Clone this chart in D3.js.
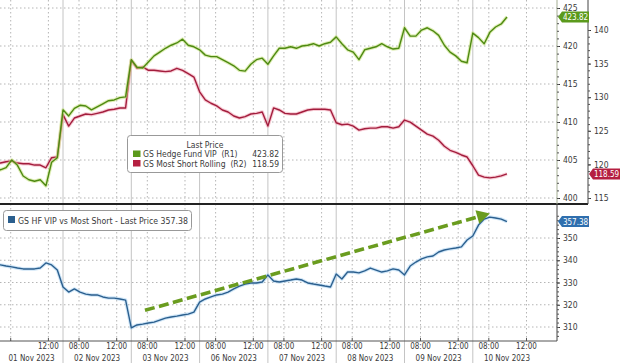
<!DOCTYPE html>
<html lang="en">
<head>
<meta charset="UTF-8">
<title>GS Hedge Fund VIP vs Most Short</title>
<script src="https://d3js.org/d3.v7.min.js"></script>
<style>
  body { margin: 0; background: #fff; }
  svg text { font-family: "DejaVu Sans Condensed", "DejaVu Sans", sans-serif; fill: #3a3a3a; }
</style>
</head>
<body>
<svg id="chart" width="620" height="363"></svg>
<script>
// trading days on the x axis (01 Nov is cut at the left edge)
var days = ["01 Nov 2023", "02 Nov 2023", "03 Nov 2023", "06 Nov 2023",
            "07 Nov 2023", "08 Nov 2023", "09 Nov 2023", "10 Nov 2023"];
var timeTicks = [8, 12];          // hours labelled in each day
var sessionOpen = 6.3, sessionHours = 7.25;
var samplesPerDay = 12;

// GS Hedge Fund VIP (R1)
var hedgeFundVip = [
  404.3, 403.7, 404.0, 405.0, 404.3, 402.9, 402.4, 402.2, 402.4, 401.6, 404.7, 405.3,
  411.6, 410.8, 411.8, 412.2, 412.1, 411.6, 412.0, 412.4, 412.8, 412.9, 413.2, 413.3,
  418.2, 417.2, 417.1, 417.9, 418.7, 419.2, 419.7, 420.1, 420.4, 420.9, 420.1, 419.9,
  419.5, 418.8, 418.6, 418.6, 418.2, 417.8, 417.4, 416.8, 416.7, 417.6, 418.2, 418.4,
  417.6, 418.7, 419.7, 419.7, 419.9, 419.7, 420.0, 420.1, 420.3, 420.0, 420.3, 420.5,
  421.2, 420.3, 419.5, 419.2, 418.2, 419.5, 419.7, 419.9, 420.3, 419.9, 419.6, 419.7,
  422.4, 421.3, 421.3, 422.1, 422.4, 422.0, 421.4, 420.1, 419.2, 418.7, 418.0, 417.8,
  421.7, 421.1, 420.3, 421.8, 422.5, 422.9, 423.82
];
// GS Most Short Rolling (R2)
var mostShort = [
  120.2, 120.2, 120.4, 120.5, 120.2, 120.1, 120.1, 119.9, 119.9, 119.5, 121.0, 121.1,
  127.4, 125.7, 126.9, 127.2, 127.5, 127.4, 127.6, 127.8, 128.1, 128.2, 128.4, 128.4,
  135.5, 134.3, 134.5, 134.0, 134.0, 133.9, 133.8, 133.9, 134.3, 134.0, 133.5, 133.0,
  130.8, 129.6, 129.1, 128.7, 128.1, 127.8, 127.2, 126.9, 127.1, 127.5, 127.6, 127.8,
  125.7, 128.4, 128.1, 127.6, 127.5, 127.5, 127.8, 128.1, 128.2, 128.2, 128.2, 128.1,
  126.2, 125.9, 126.0, 125.7, 125.1, 125.3, 125.4, 125.4, 125.6, 125.6, 125.4, 125.6,
  126.6, 126.3, 125.7, 125.1, 124.5, 124.2, 123.6, 122.7, 122.1, 121.8, 121.4, 121.1,
  119.8, 118.4, 118.1, 118.0, 118.1, 118.3, 118.59
];
// GS HF VIP vs Most Short
var vipVsShort = [
  338.3, 337.9, 337.4, 337.0, 336.5, 336.1, 336.1, 336.1, 336.5, 338.8, 337.9, 335.6,
  328.0, 325.7, 327.1, 325.7, 324.8, 324.4, 324.4, 323.5, 323.0, 323.0, 322.6, 322.1,
  309.6, 310.9, 311.3, 311.8, 312.2, 313.1, 314.0, 314.5, 314.9, 315.4, 315.8, 316.7,
  321.2, 322.6, 323.5, 324.4, 324.8, 325.7, 327.1, 328.4, 329.3, 329.8, 329.8, 330.2,
  333.4, 330.7, 330.2, 330.7, 331.1, 331.6, 331.1, 329.8, 329.3, 328.9, 328.4, 328.0,
  333.8, 331.6, 334.7, 334.7, 334.3, 335.2, 336.5, 335.6, 334.7, 335.2, 336.1, 335.6,
  333.4, 337.4, 339.2, 340.6, 341.5, 341.9, 343.7, 344.6, 345.1, 345.5, 346.0, 349.1,
  350.9, 355.8, 358.5, 359.4, 359.0, 358.5, 357.38
];
var r1Ticks = [400, 405, 410, 415, 420, 425];
var r2Ticks = [115, 120, 125, 130, 135, 140];
var bottomTicks = [310, 320, 330, 340, 350];
// trend arrow: [day index, fraction of day, value]
var trendStart = [2, 0.2, 317.5];
var trendEnd = [7, 0.25, 361];

var svg = d3.select("#chart");
var plotRight = 557, r2AxisX = 588, divY = 204, axisY = 341;

var x = d3.scaleLinear().domain([0, 8]).range([-5.3, 541.1]);
var yR1 = d3.scaleLinear().domain([400, 425]).range([198, 8]);
var yR2 = d3.scaleLinear().domain([115, 140]).range([198, 30]);
var yB = d3.scaleLinear().domain([310, 350]).range([327, 238]);

function sampleT(i) { return Math.floor(i / samplesPerDay) + (i % samplesPerDay) / samplesPerDay; }
function hourT(d, h) { return d + (h - sessionOpen) / sessionHours; }

var defs = svg.append("defs");
defs.append("clipPath").attr("id", "clipTop").append("rect")
  .attr("x", 0).attr("y", 0).attr("width", plotRight).attr("height", divY);
defs.append("clipPath").attr("id", "clipBot").append("rect")
  .attr("x", 0).attr("y", divY).attr("width", plotRight).attr("height", axisY - divY);

// grid
var grid = svg.append("g");
grid.selectAll(".hgT").data(r1Ticks).enter().append("line")
  .attr("x1", 0).attr("x2", plotRight)
  .attr("y1", function(d){ return yR1(d); }).attr("y2", function(d){ return yR1(d); })
  .attr("stroke", "#b5b5b5").attr("stroke-dasharray", "1.5,2.5");
grid.selectAll(".hgB").data(bottomTicks).enter().append("line")
  .attr("x1", 0).attr("x2", plotRight)
  .attr("y1", function(d){ return yB(d); }).attr("y2", function(d){ return yB(d); })
  .attr("stroke", "#b5b5b5").attr("stroke-dasharray", "1.5,2.5");

var timeGrid = [];
days.forEach(function(d, i){ timeTicks.forEach(function(h){ timeGrid.push(hourT(i, h)); }); });
timeGrid = timeGrid.filter(function(t){ return x(t) > 0 && x(t) < plotRight; });
grid.selectAll(".vg").data(timeGrid).enter().append("line")
  .attr("x1", function(d){ return x(d); }).attr("x2", function(d){ return x(d); })
  .attr("y1", 0).attr("y2", axisY)
  .attr("stroke", "#b5b5b5").attr("stroke-dasharray", "1.5,2.5");
grid.selectAll(".sep").data(d3.range(1, days.length)).enter().append("line")
  .attr("x1", function(d){ return x(d); }).attr("x2", function(d){ return x(d); })
  .attr("y1", 0).attr("y2", 363)
  .attr("stroke", "#c4c4c4").attr("stroke-width", 1);

// lines
function drawLine(g, data, y, color, glow) {
  var line = d3.line().x(function(d, i){ return x(sampleT(i)); }).y(function(d){ return y(d); });
  g.append("path").datum(data).attr("d", line).attr("fill", "none")
    .attr("stroke", glow).attr("stroke-width", 3.5).attr("stroke-opacity", 0.55)
    .attr("stroke-linejoin", "round");
  g.append("path").datum(data).attr("d", line).attr("fill", "none")
    .attr("stroke", color).attr("stroke-width", 1.4).attr("stroke-linejoin", "round");
}
var gTop = svg.append("g").attr("clip-path", "url(#clipTop)");
drawLine(gTop, mostShort, yR2, "#a31d3d", "#f0a3b3");
drawLine(gTop, hedgeFundVip, yR1, "#4e8a12", "#c4e07a");
var gBot = svg.append("g").attr("clip-path", "url(#clipBot)");
drawLine(gBot, vipVsShort, yB, "#2b5f8e", "#a9d2f0");

// trend arrow
var ax0 = x(trendStart[0] + trendStart[1]), ay0 = yB(trendStart[2]);
var ax1 = x(trendEnd[0] + trendEnd[1]), ay1 = yB(trendEnd[2]);
var ang = Math.atan2(ay1 - ay0, ax1 - ax0), headLen = 13, headW = 7;
var bx = ax1 - headLen * Math.cos(ang), by = ay1 - headLen * Math.sin(ang);
svg.append("line").attr("x1", ax0).attr("y1", ay0).attr("x2", bx).attr("y2", by)
  .attr("stroke", "#6a9c1f").attr("stroke-width", 3.6).attr("stroke-dasharray", "10,4.5");
svg.append("polygon")
  .attr("points", [[ax1, ay1],
    [bx + headW * Math.sin(ang), by - headW * Math.cos(ang)],
    [bx - headW * Math.sin(ang), by + headW * Math.cos(ang)]].map(function(p){ return p.join(","); }).join(" "))
  .attr("fill", "#6a9c1f");

// divider and bottom axis line
svg.append("line").attr("x1", 0).attr("x2", r2AxisX).attr("y1", divY).attr("y2", divY)
  .attr("stroke", "#222").attr("stroke-width", 2);
svg.append("line").attr("x1", 0).attr("x2", plotRight).attr("y1", axisY).attr("y2", axisY)
  .attr("stroke", "#555").attr("stroke-width", 1);

// right axes
function styleAxis(g, lineColor) {
  g.select(".domain").attr("stroke", lineColor);
  g.selectAll(".tick line").attr("stroke", "#333");
  g.selectAll("text").attr("font-size", 8.5).attr("fill", "#3a3a3a")
    .style("font-family", '"DejaVu Sans Condensed", "DejaVu Sans", sans-serif');
}
var gR1 = svg.append("g").attr("transform", "translate(" + plotRight + ",0)")
  .call(d3.axisRight(yR1).tickValues(r1Ticks).tickSize(3).tickPadding(3).tickSizeOuter(0));
styleAxis(gR1, "#a4ae93");
gR1.select(".domain").attr("d", "M0,0V" + divY);
svg.append("g").attr("transform", "translate(" + plotRight + ",0)")
  .call(d3.axisRight(yR1).tickValues(d3.range(400, 426, 1)).tickSize(2).tickFormat("").tickSizeOuter(0))
  .call(function(g){ g.select(".domain").remove(); g.selectAll("line").attr("stroke", "#555"); });

var gR2 = svg.append("g").attr("transform", "translate(" + r2AxisX + ",0)")
  .call(d3.axisRight(yR2).tickValues(r2Ticks).tickSize(3).tickPadding(3).tickSizeOuter(0));
styleAxis(gR2, "#444");
gR2.select(".domain").attr("d", "M0,0V" + divY);
svg.append("g").attr("transform", "translate(" + r2AxisX + ",0)")
  .call(d3.axisRight(yR2).tickValues(d3.range(115, 141, 1)).tickSize(2).tickFormat("").tickSizeOuter(0))
  .call(function(g){ g.select(".domain").remove(); g.selectAll("line").attr("stroke", "#555"); });

var gB = svg.append("g").attr("transform", "translate(" + plotRight + ",0)")
  .call(d3.axisRight(yB).tickValues(bottomTicks).tickSize(3).tickPadding(3).tickSizeOuter(0));
styleAxis(gB, "#444");
gB.select(".domain").attr("d", "M0," + divY + "V" + axisY);
svg.append("g").attr("transform", "translate(" + plotRight + ",0)")
  .call(d3.axisRight(yB).tickValues(d3.range(306, 362, 2)).tickSize(2).tickFormat("").tickSizeOuter(0))
  .call(function(g){ g.select(".domain").remove(); g.selectAll("line").attr("stroke", "#555"); });

// x axis labels
var timeLabels = timeGrid.filter(function(t){ return x(t) > 22; });
svg.selectAll(".tt").data(timeLabels).enter().append("text")
  .attr("x", function(d){ return x(d); }).attr("y", 349)
  .attr("text-anchor", "middle").attr("font-size", 8)
  .text(function(d){ var h = Math.round(sessionOpen + (d - Math.floor(d)) * sessionHours); return (h < 10 ? "0" : "") + h + ":00"; });
svg.selectAll(".xt").data(timeGrid).enter().append("line")
  .attr("x1", function(d){ return x(d); }).attr("x2", function(d){ return x(d); })
  .attr("y1", axisY - 3).attr("y2", axisY).attr("stroke", "#555");
svg.selectAll(".dl").data(days).enter().append("text")
  .attr("x", function(d, i){ return (Math.max(0, x(i)) + Math.min(x(i + 1), plotRight)) / 2; })
  .attr("y", 361).attr("text-anchor", "middle").attr("font-size", 8)
  .text(function(d){ return d; });

// last value tags
function lastTag(xPos, yPos, color, label) {
  var h = 11, w = 31;
  svg.append("path")
    .attr("d", "M" + xPos + "," + yPos + "L" + (xPos + 4) + "," + (yPos - h / 2) + "H" + (xPos + w) +
      "V" + (yPos + h / 2) + "H" + (xPos + 4) + "Z")
    .attr("fill", color);
  svg.append("text").attr("x", xPos + 4 + (w - 4) / 2).attr("y", yPos + 3)
    .attr("text-anchor", "middle").attr("font-size", 8).style("fill", "#fff").text(label);
}
lastTag(plotRight + 1, yR1(hedgeFundVip[hedgeFundVip.length - 1]), "#5b9a1c", d3.format(".2f")(hedgeFundVip[hedgeFundVip.length - 1]));
lastTag(r2AxisX + 1, yR2(mostShort[mostShort.length - 1]), "#b51f41", d3.format(".2f")(mostShort[mostShort.length - 1]));
lastTag(plotRight + 1, yB(vipVsShort[vipVsShort.length - 1]), "#2f6fae", d3.format(".2f")(vipVsShort[vipVsShort.length - 1]));

// legend top
var lg = svg.append("g");
lg.append("rect").attr("x", 127.5).attr("y", 135.5).attr("width", 155).attr("height", 37)
  .attr("rx", 3).attr("fill", "#fff").attr("stroke", "#999");
lg.append("text").attr("x", 205).attr("y", 148).attr("text-anchor", "middle").attr("font-size", 8.5).text("Last Price");
var legRows = [
  { name: "GS Hedge Fund VIP\u00a0\u00a0(R1)", color: "#5b9a1c", value: hedgeFundVip[hedgeFundVip.length - 1] },
  { name: "GS Most Short Rolling\u00a0\u00a0(R2)", color: "#b51f41", value: mostShort[mostShort.length - 1] }
];
legRows.forEach(function(r, i) {
  var yy = 157 + i * 9.5;
  lg.append("rect").attr("x", 133).attr("y", yy - 6.5).attr("width", 7.5).attr("height", 6.5).attr("fill", r.color);
  lg.append("text").attr("x", 143).attr("y", yy).attr("font-size", 8.5).text(r.name);
  lg.append("text").attr("x", 279).attr("y", yy).attr("text-anchor", "end").attr("font-size", 8.5).text(d3.format(".2f")(r.value));
});

// legend bottom
var lb = svg.append("g");
lb.append("rect").attr("x", 3.5).attr("y", 210.5).attr("width", 188).attr("height", 20)
  .attr("rx", 3).attr("fill", "#fff").attr("stroke", "#999");
lb.append("rect").attr("x", 8).attr("y", 216).attr("width", 7).attr("height", 7).attr("fill", "#2b5f8e");
lb.append("text").attr("x", 18).attr("y", 223.5).attr("font-size", 8.7)
  .text("GS HF VIP vs Most Short - Last Price " + d3.format(".2f")(vipVsShort[vipVsShort.length - 1]));
</script>
</body>
</html>
